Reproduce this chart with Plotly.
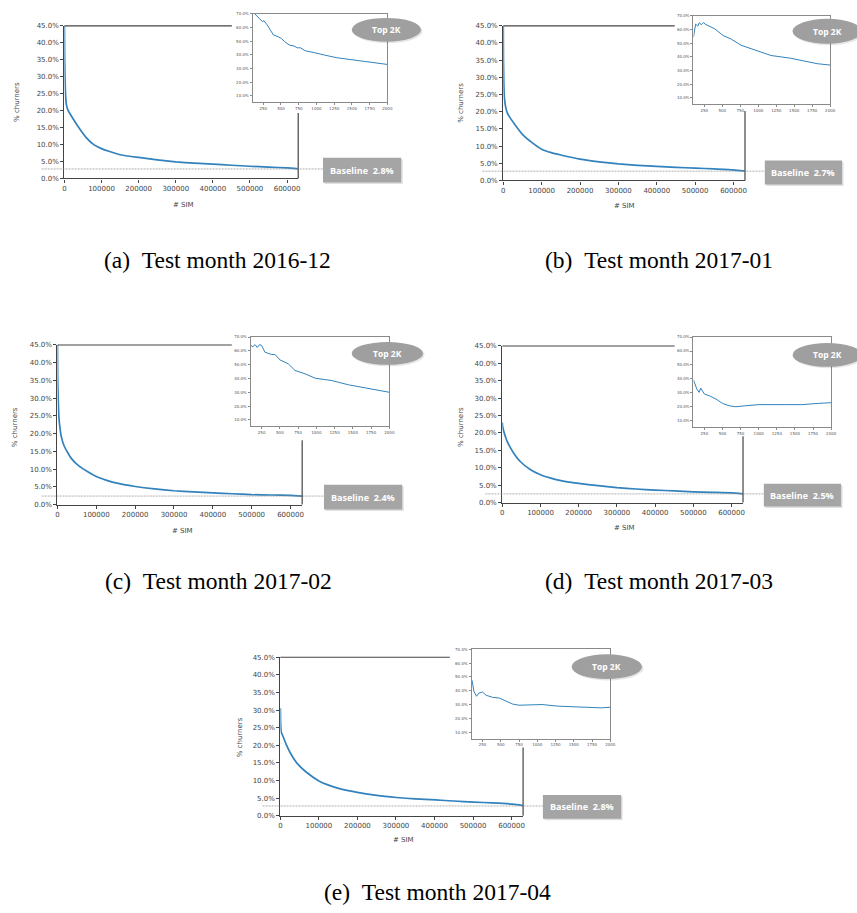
import plotly.graph_objects as go

W, H = 857, 913

# ---------------- data ----------------
captions = ["(a)\u00a0\u00a0Test month 2016-12", "(b)\u00a0\u00a0Test month 2017-01",
            "(c)\u00a0\u00a0Test month 2017-02", "(d)\u00a0\u00a0Test month 2017-03",
            "(e)\u00a0\u00a0Test month 2017-04"]
baselines = [2.8, 2.7, 2.4, 2.5, 2.8]

a_main_x = [0, 500, 1500, 3000, 5000, 9000, 20000, 40000, 60000, 80000, 100000, 120000, 150000, 200000, 250000, 300000, 350000, 400000, 450000, 500000, 550000, 600000, 630000]
a_main_y = [45.0, 37.0, 30.0, 25.0, 22.0, 20.3, 18.2, 14.8, 11.9, 9.9, 8.8, 8.0, 7.0, 6.2, 5.5, 4.9, 4.5, 4.2, 3.9, 3.6, 3.35, 3.1, 2.8]
b_main_x = [0, 500, 1500, 3000, 6000, 10000, 15000, 30000, 50000, 75000, 100000, 125000, 150000, 200000, 250000, 300000, 350000, 400000, 450000, 500000, 550000, 600000, 630000]
b_main_y = [45.0, 35.0, 28.0, 24.0, 21.5, 19.8, 18.7, 16.3, 13.4, 11.0, 9.1, 8.1, 7.4, 6.2, 5.4, 4.8, 4.4, 4.1, 3.8, 3.6, 3.35, 3.1, 2.7]
c_main_x = [0, 500, 1700, 3500, 6000, 10000, 18000, 35000, 52000, 77000, 100000, 125000, 150000, 200000, 250000, 300000, 350000, 400000, 450000, 500000, 550000, 600000, 630000]
c_main_y = [45.0, 36.0, 30.4, 25.0, 22.0, 19.1, 16.3, 13.1, 11.2, 9.3, 7.9, 6.9, 6.1, 5.1, 4.4, 3.9, 3.6, 3.3, 3.05, 2.8, 2.7, 2.6, 2.4]
d_main_x = [0, 1000, 4000, 8000, 13000, 20000, 30000, 47000, 73000, 100000, 125000, 150000, 200000, 250000, 300000, 350000, 400000, 450000, 500000, 550000, 600000, 630000]
d_main_y = [23.0, 21.8, 20.4, 19.0, 17.5, 16.0, 14.2, 11.8, 9.5, 8.0, 7.1, 6.4, 5.5, 4.85, 4.3, 3.9, 3.6, 3.35, 3.1, 2.95, 2.8, 2.5]
e_main_x = [0, 500, 1500, 3000, 6000, 14500, 27000, 44000, 66000, 100000, 125000, 151000, 203000, 250000, 301000, 350000, 403000, 450000, 502000, 550000, 604000, 630000]
e_main_y = [30.5, 27.0, 24.5, 23.5, 22.8, 20.4, 17.6, 14.8, 12.5, 9.9, 8.7, 7.8, 6.6, 5.8, 5.2, 4.8, 4.5, 4.2, 3.9, 3.65, 3.3, 2.9]

a_in_x = [100, 135, 193, 237, 259, 304, 371, 393, 460, 505, 550, 617, 684, 729, 774, 841, 975, 1042, 1110, 1289, 1468, 1647, 1826, 2000]
a_in_y = [71.5, 70.0, 66.8, 64.4, 65.0, 62.0, 57.0, 54.6, 53.3, 52.0, 49.7, 47.2, 46.5, 45.2, 45.2, 43.0, 41.6, 41.0, 39.9, 37.9, 36.7, 35.5, 34.2, 33.0]
b_in_x = [100, 130, 160, 180, 210, 240, 260, 305, 396, 510, 625, 762, 900, 1040, 1177, 1315, 1452, 1636, 1820, 2000]
b_in_y = [54.5, 64.0, 62.5, 65.0, 63.5, 65.2, 64.0, 63.0, 60.5, 55.7, 53.0, 48.5, 46.0, 43.0, 41.0, 40.0, 39.0, 37.0, 35.0, 34.0]
c_in_x = [100, 130, 160, 190, 220, 250, 296, 340, 387, 433, 500, 616, 708, 845, 983, 1212, 1441, 1670, 1853, 2000]
c_in_y = [64.0, 63.0, 64.5, 62.5, 64.5, 64.0, 59.0, 58.0, 57.4, 57.4, 53.5, 50.6, 45.8, 43.4, 40.2, 38.5, 35.4, 33.2, 31.3, 30.0]
d_in_x = [100, 146, 178, 200, 250, 318, 410, 500, 592, 683, 820, 1000, 1365, 1594, 1822, 2000]
d_in_y = [39.3, 32.8, 30.4, 33.5, 29.2, 28.0, 25.6, 22.5, 20.8, 20.1, 20.8, 21.6, 21.6, 21.6, 22.5, 23.0]
e_in_x = [100, 110, 132, 168, 200, 250, 300, 390, 480, 570, 660, 750, 930, 1065, 1290, 1515, 1740, 1875, 2000]
e_in_y = [48.0, 46.7, 39.5, 36.0, 38.3, 39.0, 36.7, 35.2, 34.7, 32.8, 30.4, 29.5, 30.0, 30.0, 28.8, 28.3, 27.6, 27.6, 28.0]

mains = [(a_main_x, a_main_y), (b_main_x, b_main_y), (c_main_x, c_main_y), (d_main_x, d_main_y), (e_main_x, e_main_y)]
insets = [(a_in_x, a_in_y), (b_in_x, b_in_y), (c_in_x, c_in_y), (d_in_x, d_in_y), (e_in_x, e_in_y)]

main_yticks = [0, 5, 10, 15, 20, 25, 30, 35, 40, 45]
main_xticks = [0, 100000, 200000, 300000, 400000, 500000, 600000]
inset_yticks = [10, 20, 30, 40, 50, 60, 70]
inset_xticks = [250, 500, 750, 1000, 1250, 1500, 1750, 2000]

# ---------------- layout geometry (pixels) ----------------
P = [
    dict(x0=63, x1=299, yt=22, yb=176, ix0=253, ix1=389, iyt=10, iyb=99, topend=232, rstart=110,
         bx0=324, bx1=403, byt=155, byb=180, ex0=353, ex1=423, eyt=14, eyb=38, dash0=40,
         ylab=(15, 99), xlab=(183, 203), cap=(218, 258)),
    dict(x0=506, x1=750, yt=22, yb=178, ix0=698, ix1=836, iyt=12, iyb=101, topend=679, rstart=108,
         bx0=770, bx1=848, byt=158, byb=182, ex0=798, ex1=868, eyt=15, eyb=40, dash0=485,
         ylab=(463, 100), xlab=(628, 204), cap=(663, 258)),
    dict(x0=56, x1=303, yt=344, yb=505, ix0=251, ix1=391, iyt=336, iyb=426, topend=232, rstart=440,
         bx0=325, bx1=404, byt=485, byb=510, ex0=353, ex1=425, eyt=341, eyb=364, dash0=40,
         ylab=(13, 427), xlab=(182, 532), cap=(219, 582)),
    dict(x0=505, x1=748, yt=345, yb=503, ix0=698, ix1=837, iyt=336, iyb=427, topend=679, rstart=436,
         bx0=769, bx1=847, byt=484, byb=507, ex0=798, ex1=868, eyt=342, eyb=366, dash0=488,
         ylab=(464, 427), xlab=(628, 529), cap=(663, 582)),
    dict(x0=281, x1=526, yt=659, yb=819, ix0=474, ix1=614, iyt=651, iyb=741, topend=452, rstart=750,
         bx0=546, bx1=625, byt=798, byb=822, ex0=575, ex1=646, eyt=656, eyb=681, dash0=263,
         ylab=(240, 740), xlab=(405, 843), cap=(440, 896)),
]


def fx(px):
    return px / W


def fy(py):
    return 1 - py / H


LINE = "#3282bd"
TICKFONT = dict(family="DejaVu Sans", size=7, color="#444")
INFONT = dict(family="DejaVu Sans", size=4, color="#555")


def label(x, y, text, font, angle=0):
    return dict(xref="paper", yref="paper", x=fx(x), y=fy(y), xanchor="center", yanchor="middle",
                showarrow=False, text=text, textangle=angle, font=font)


fig = go.Figure()
layout = dict(width=W, height=H, margin=dict(l=0, r=0, t=0, b=0),
              paper_bgcolor="white", plot_bgcolor="rgba(0,0,0,0)", showlegend=False)
shapes, annotations = [], []

for i, g in enumerate(P):
    mi, ii = 2 * i + 1, 2 * i + 2
    mx = "x" if mi == 1 else f"x{mi}"
    my = "y" if mi == 1 else f"y{mi}"
    ix, iy = f"x{ii}", f"y{ii}"
    mxk = "xaxis" if mi == 1 else f"xaxis{mi}"
    myk = "yaxis" if mi == 1 else f"yaxis{mi}"

    layout[mxk] = dict(domain=[fx(g["x0"]), fx(g["x1"])], anchor=my, range=[0, 630000],
                       tickvals=main_xticks, ticktext=[str(v) for v in main_xticks],
                       showline=True, linecolor="#444", linewidth=1.2, ticks="outside",
                       ticklen=3, tickcolor="#444", tickfont=TICKFONT, showgrid=False, zeroline=False)
    layout[myk] = dict(domain=[fy(g["yb"]), fy(g["yt"])], anchor=mx, range=[0, 45],
                       tickvals=main_yticks, ticktext=[f"{v:.1f}%" for v in main_yticks],
                       showline=True, linecolor="#444", linewidth=1.2, ticks="outside",
                       ticklen=3, tickcolor="#444", tickfont=TICKFONT, showgrid=False, zeroline=False)
    layout[f"xaxis{ii}"] = dict(domain=[fx(g["ix0"]), fx(g["ix1"])], anchor=iy, range=[100, 2000],
                                tickvals=inset_xticks, ticktext=[str(v) for v in inset_xticks],
                                showline=True, mirror=True, linecolor="#8a8a8a", linewidth=1,
                                ticks="outside", ticklen=2, tickcolor="#8a8a8a", tickfont=INFONT,
                                showgrid=False, zeroline=False)
    layout[f"yaxis{ii}"] = dict(domain=[fy(g["iyb"]), fy(g["iyt"])], anchor=ix, range=[5.4, 70],
                                tickvals=inset_yticks, ticktext=[f"{v:.1f}%" for v in inset_yticks],
                                showline=True, mirror=True, linecolor="#8a8a8a", linewidth=1,
                                ticks="outside", ticklen=2, tickcolor="#8a8a8a", tickfont=INFONT,
                                showgrid=False, zeroline=False)

    x, y = mains[i]
    fig.add_trace(go.Scatter(x=x, y=y, xaxis=mx, yaxis=my, mode="lines",
                             line=dict(color=LINE, width=1.7, shape="spline", smoothing=0.4),
                             hoverinfo="skip"))
    x, y = insets[i]
    fig.add_trace(go.Scatter(x=x, y=y, xaxis=ix, yaxis=iy, mode="lines",
                             line=dict(color=LINE, width=1), hoverinfo="skip"))

    # remaining visible spines of the main frame
    shapes.append(dict(type="line", xref="paper", yref="paper", x0=fx(g["x0"]), x1=fx(g["topend"]),
                       y0=fy(g["yt"]), y1=fy(g["yt"]), line=dict(color="#444", width=1.2)))
    shapes.append(dict(type="line", xref="paper", yref="paper", x0=fx(g["x1"]), x1=fx(g["x1"]),
                       y0=fy(g["rstart"]), y1=fy(g["yb"]), line=dict(color="#444", width=1.2)))
    # baseline dotted line
    shapes.append(dict(type="line", xref="paper", yref=my, x0=fx(g["dash0"]), x1=fx(g["bx0"]),
                       y0=baselines[i], y1=baselines[i],
                       line=dict(color="#8c8c8c", width=0.7, dash="2px,1px")))
    # baseline box (shadow + box)
    shapes.append(dict(type="rect", xref="paper", yref="paper", x0=fx(g["bx0"] + 1.5), x1=fx(g["bx1"] + 1.5),
                       y0=fy(g["byb"] + 1.5), y1=fy(g["byt"] + 1.5), line=dict(width=0),
                       fillcolor="rgba(0,0,0,0.12)"))
    shapes.append(dict(type="rect", xref="paper", yref="paper", x0=fx(g["bx0"]), x1=fx(g["bx1"]),
                       y0=fy(g["byb"]), y1=fy(g["byt"]), line=dict(width=0), fillcolor="#a5a5a5"))
    annotations.append(label((g["bx0"] + g["bx1"]) / 2, (g["byt"] + g["byb"]) / 2,
                             f"<b>Baseline\u00a0\u00a0{baselines[i]:.1f}%</b>",
                             dict(family="Open Sans", size=9, color="white")))
    # "Top 2K" ellipse (shadow + ellipse)
    shapes.append(dict(type="circle", xref="paper", yref="paper", x0=fx(g["ex0"] + 1.5), x1=fx(g["ex1"] + 1.5),
                       y0=fy(g["eyb"] + 1.5), y1=fy(g["eyt"] + 1.5), line=dict(width=0),
                       fillcolor="rgba(0,0,0,0.10)"))
    shapes.append(dict(type="circle", xref="paper", yref="paper", x0=fx(g["ex0"]), x1=fx(g["ex1"]),
                       y0=fy(g["eyb"]), y1=fy(g["eyt"]), line=dict(width=0), fillcolor="#9f9f9f"))
    annotations.append(label((g["ex0"] + g["ex1"]) / 2, (g["eyt"] + g["eyb"]) / 2, "<b>Top 2K</b>",
                             dict(family="Open Sans", size=8.5, color="white")))
    # axis labels
    annotations.append(label(g["ylab"][0], g["ylab"][1], "% churners",
                             dict(family="DejaVu Sans", size=7, color="#444"), angle=-90))
    annotations.append(label(g["xlab"][0], g["xlab"][1], "# SIM",
                             dict(family="DejaVu Sans", size=7, color="#444")))
    # caption
    annotations.append(label(g["cap"][0], g["cap"][1], captions[i],
                             dict(family="Liberation Serif", size=23.5, color="black")))

layout["shapes"] = shapes
layout["annotations"] = annotations
fig.update_layout(**layout)
fig.write_html("out.html")
